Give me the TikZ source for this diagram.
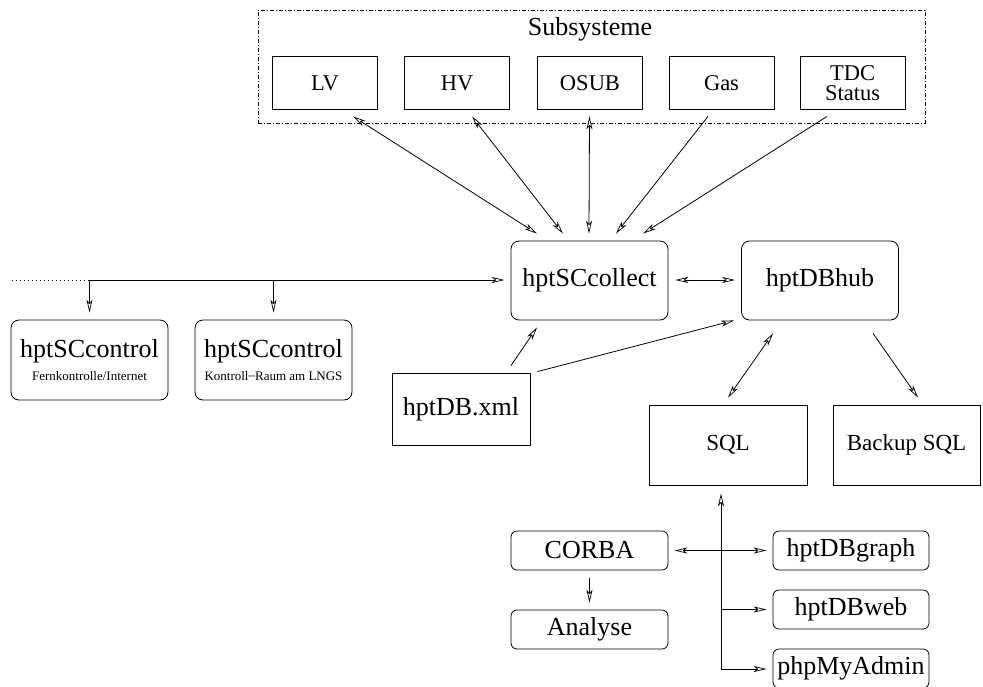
\documentclass[tikz,border=0pt]{standalone}
\usepackage{fontspec}
\setmainfont{Liberation Serif}
\usetikzlibrary{arrows.meta,calc}
\begin{document}
\begin{tikzpicture}[x=1pt,y=-1pt,line width=0.8pt,
  tip/.tip={Stealth[open,length=13pt,width=6pt,inset=3.5pt,line width=0.7pt]},
  arr/.style={-tip},
  arrb/.style={tip-tip},
  bigf/.style={font=\fontsize{26}{26}\selectfont},
  subbox/.style={draw,rectangle,inner sep=0pt,minimum width=105pt,minimum height=53pt,
    align=center,font=\fontsize{22.5}{20.5}\selectfont},
  bigrbox/.style={draw,rounded corners=8pt,inner sep=0pt,minimum width=157pt,minimum height=79pt,bigf},
  ctrlbox/.style={draw,rounded corners=8pt,inner sep=0pt,minimum width=157pt,minimum height=80pt,
    align=center,font=\fontsize{13}{23}\selectfont},
  sqlbox/.style={draw,rectangle,inner sep=0pt,minimum height=80pt,font=\fontsize{23}{23}\selectfont},
  smrbox/.style={draw,rounded corners=6pt,inner sep=0pt,minimum width=157pt,minimum height=39pt,bigf},
  frame/.style={draw,dash pattern=on 4pt off 2pt on 1pt off 2pt,line width=0.6pt,inner sep=0pt}]
\useasboundingbox (0,0) rectangle (983,686);

% Subsysteme frame
\node[frame,minimum width=667pt,minimum height=113pt] (sub) at (591.5,66.5) {};
\node[bigf] (subt) at (590,29) {Subsysteme};
\node[subbox] (lv) at (325,83) {LV};
\node[subbox] (hv) at (457,83) {HV};
\node[subbox] (osub) at (590,83) {OSUB};
\node[subbox] (gas) at (721.5,83) {Gas};
\node[subbox] (tdc) at (852.5,83) {TDC\\Status};

% central nodes
\node[bigrbox] (collect) at (589.5,280.5) {hptSCcollect};
\node[bigrbox] (hub) at (820,280.5) {hptDBhub};
\node[draw,rectangle,inner sep=0pt,minimum width=138pt,minimum height=72pt,bigf] (xml) at (461,409) {hptDB.xml};

% control nodes
\node[ctrlbox] (ctrl1) at (89.5,360) {{\fontsize{26}{23}\selectfont hptSCcontrol}\\Fernkontrolle/Internet};
\node[ctrlbox] (ctrl2) at (273.5,360) {{\fontsize{26}{23}\selectfont hptSCcontrol}\\Kontroll\raisebox{0.5pt}{--}Raum am LNGS};

% databases
\node[sqlbox,minimum width=158pt] (sql) at (728,445) {SQL};
\node[sqlbox,minimum width=147pt] (backup) at (906.5,445) {Backup SQL};

% bottom
\node[smrbox] (corba) at (589.5,550.5) {CORBA};
\node[smrbox] (analyse) at (589.5,629.5) {Analyse};
\node[smrbox,minimum width=156pt] (graph) at (851,550.5) {hptDBgraph};
\node[smrbox,minimum width=156pt] (web) at (851,609.5) {hptDBweb};
\node[smrbox,minimum width=156pt] (php) at (851,668.5) {phpMyAdmin};

% subsystem connectors
\draw[arrb] ([xshift=28pt,yshift=-6.5pt]lv.south) -- ([xshift=-52.5pt,yshift=7pt]collect.north);
\draw[arrb] ([xshift=15pt,yshift=-6.5pt]hv.south) -- ([xshift=-26.5pt,yshift=7pt]collect.north);
\draw[arrb] ([xshift=-0.5pt,yshift=-6.5pt]osub.south) -- ([xshift=-0.5pt,yshift=7pt]collect.north);
\draw[arr] ([xshift=-13.5pt,yshift=-6.5pt]gas.south) -- ([xshift=26.5pt,yshift=7pt]collect.north);
\draw[arr] ([xshift=-25.5pt,yshift=-6.5pt]tdc.south) -- ([xshift=53.5pt,yshift=7pt]collect.north);

% control bus
\coordinate (lft) at (12,280);
\coordinate (j1) at (89.5,280);
\coordinate (j2) at (273.5,280);
\draw[dash pattern=on 1pt off 3pt] (lft) -- (j1);
\draw[arr,shorten >=6pt] (j1) -- (j1 -| collect.west);
\draw[arr,shorten >=7pt] (j1) -- (ctrl1.north);
\draw[arr,shorten >=7pt] (j2) -- (ctrl2.north);

% collect <-> hub
\draw[arrb,shorten <=7pt,shorten >=6pt] (collect.east |- j1) -- (hub.west |- j1);

% xml connectors
\draw[arr] ([xshift=50pt,yshift=7pt]xml.north) -- ([xshift=-52.5pt,yshift=-7pt]collect.south);
\draw[arr] ([xshift=7pt,yshift=1pt]xml.north east) -- ([xshift=-7pt]hub.south west);

% hub to databases
\draw[arrb] ([xshift=-47pt,yshift=-13pt]hub.south) -- ([yshift=7pt]sql.north);
\draw[arr] ([xshift=53pt,yshift=-13pt]hub.south) -- ([xshift=11.5pt,yshift=7pt]backup.north);

% SQL bus
\coordinate (b3) at (721,669);
\coordinate (b2) at (721,609.5);
\draw[arr,shorten >=8pt] (b3) -- (b3 |- sql.south);
\draw[arr,shorten >=6pt] (b2) -- (b2 -| web.west);
\draw[arr,shorten >=6pt] (b3) -- (b3 -| php.west);

% CORBA
\draw[arrb,shorten <=6pt,shorten >=6pt] (corba) -- (graph);
\draw[arr,shorten <=8pt,shorten >=7pt] (corba) -- (analyse);
\end{tikzpicture}
\end{document}
